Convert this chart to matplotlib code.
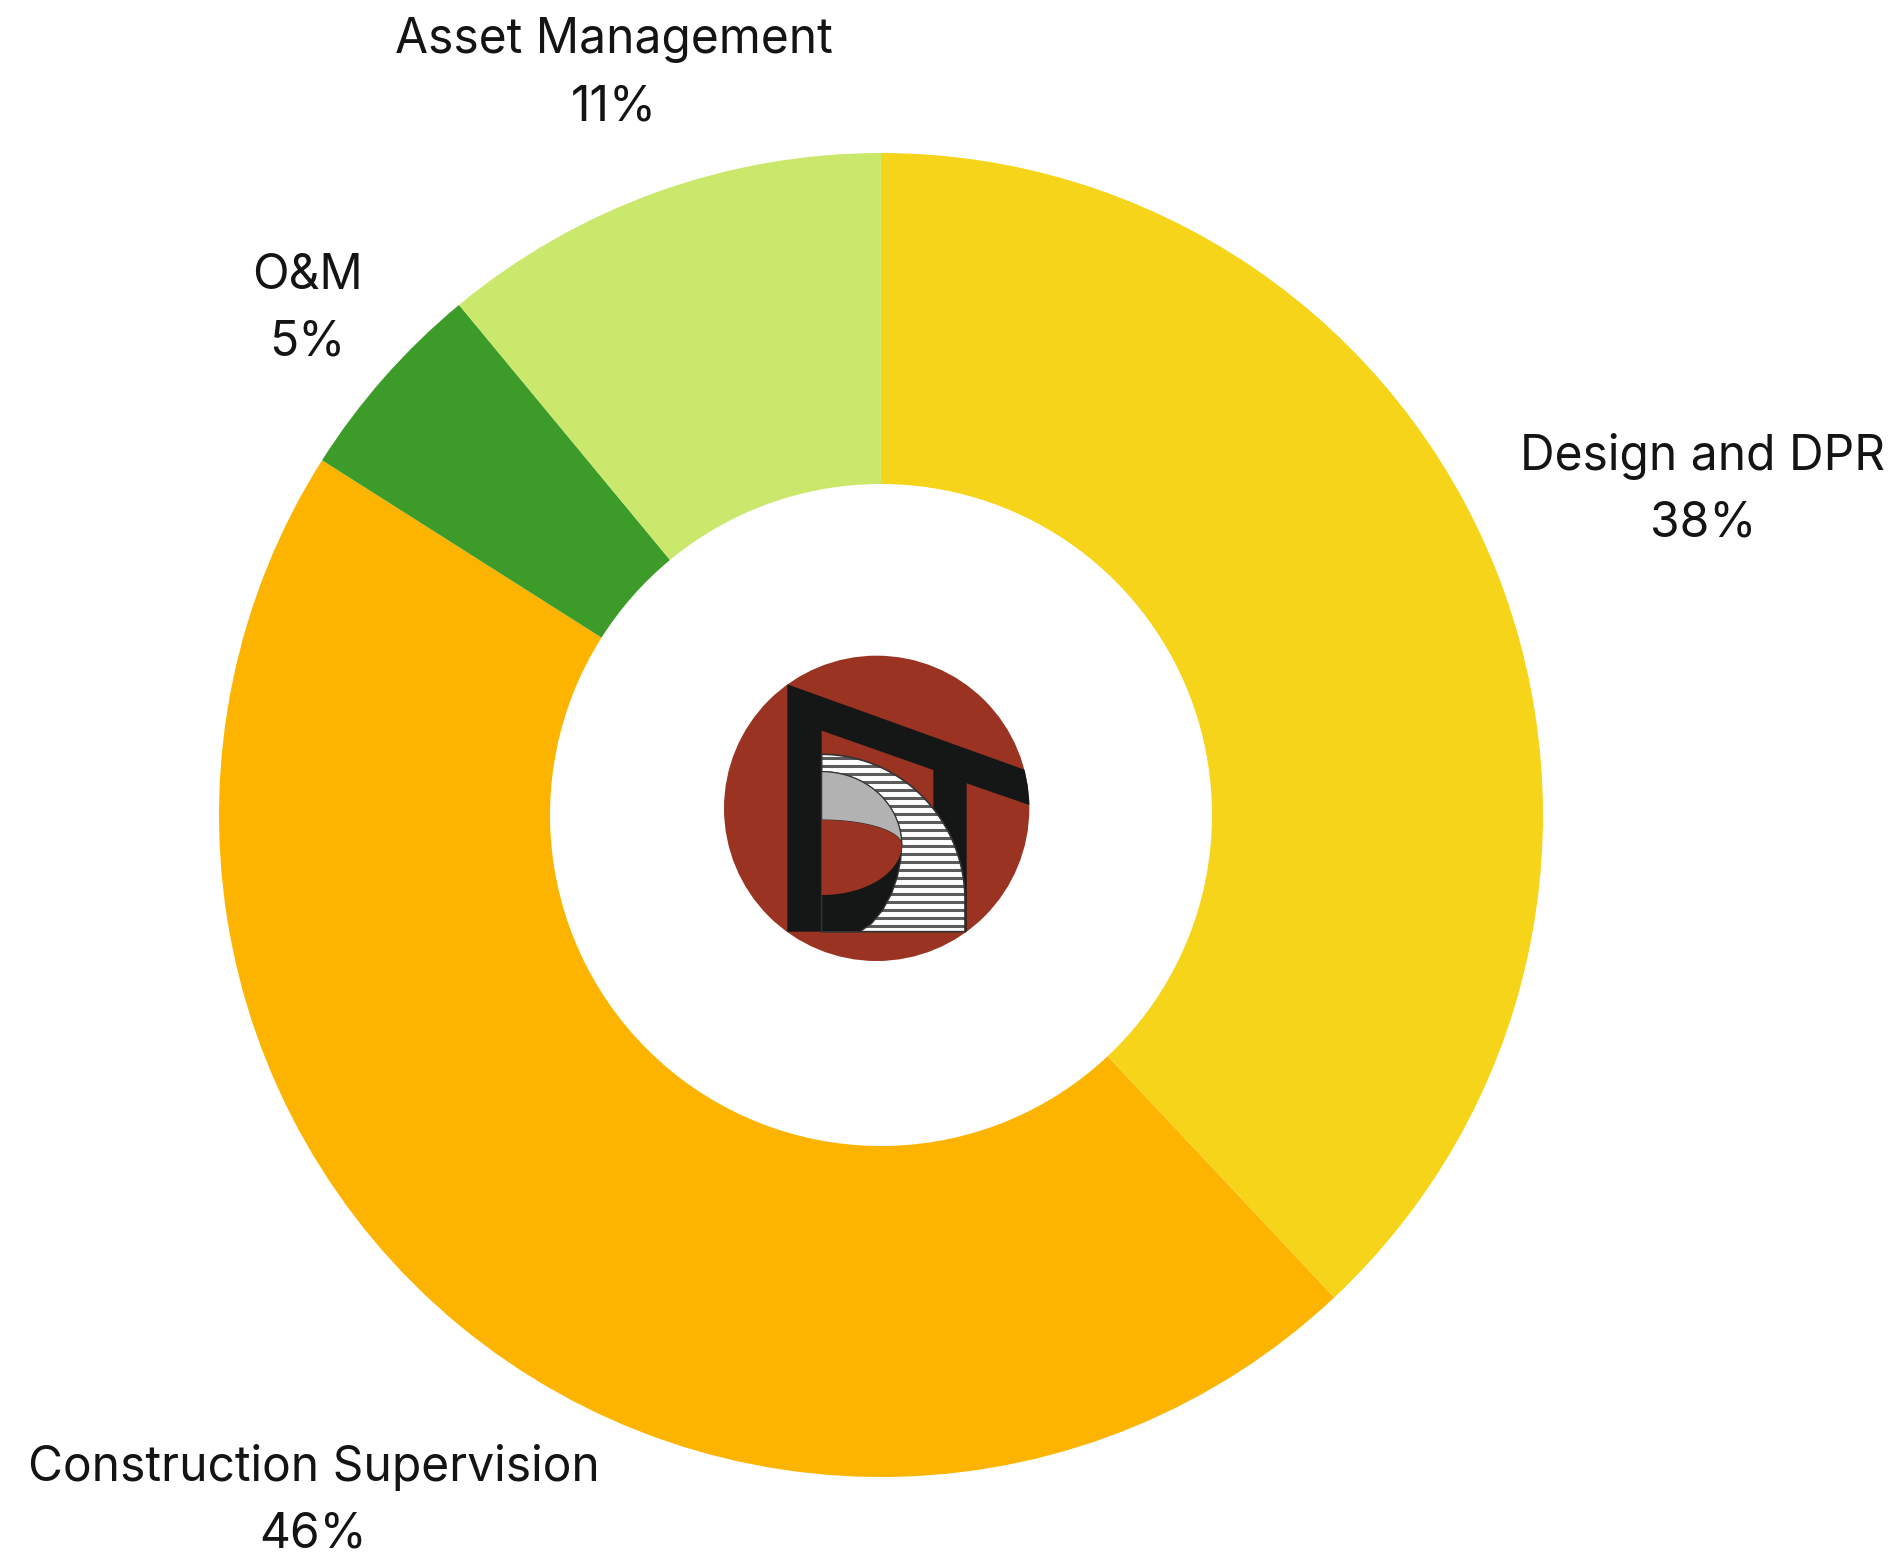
import numpy as np
import matplotlib
matplotlib.use("Agg")
import matplotlib.pyplot as plt
from matplotlib.patches import Polygon, Circle

# data
categories = ["Design and DPR", "Construction Supervision", "O&M", "Asset Management"]
shares = [38, 46, 5, 11]
colors = ["#F5D41A", "#FDB400", "#3D9C29", "#CAE86C"]
label_dist = [1.335, 1.345, 1.155, 1.19]

W, H = 1903, 1560
fig = plt.figure(figsize=(W / 100, H / 100), dpi=100)

# donut, centre (881, 815) px, radius 662 px
cx, cy, R = 881, 815, 662
ax = fig.add_axes([(cx - R) / W, (H - cy - R) / H, 2 * R / W, 2 * R / H])
wedges, _ = ax.pie(shares, colors=colors, startangle=90, counterclock=False,
                   radius=1, wedgeprops=dict(width=0.5, linewidth=0))
ax.set_xlim(-1, 1)
ax.set_ylim(-1, 1)
ax.set_aspect("equal")
ax.axis("off")

for w, name, val, d in zip(wedges, categories, shares, label_dist):
    mid = np.deg2rad((w.theta1 + w.theta2) / 2)
    ax.text(d * np.cos(mid), d * np.sin(mid), f"{name}\n{val}%",
            ha="center", va="center", multialignment="center",
            fontsize=34.5, color="#141414", linespacing=1.58,
            family=["Inter", "DejaVu Sans"])

# logo overlay in pixel coordinates
lx = fig.add_axes([0, 0, 1, 1])
lx.set_xlim(0, W)
lx.set_ylim(H, 0)
lx.axis("off")
lx.patch.set_alpha(0)

RED = "#9A3322"
BLACK = "#151716"


def z(pts):
    # logo drawn in a local 3x grid, map back to figure pixels
    return [(710 + x / 3, 640 + y / 3) for x, y in pts]


def arc(cx0, cy0, rx, ry, a0, a1, n=60):
    t = np.deg2rad(np.linspace(a0, a1, n))
    return list(zip(cx0 + rx * np.cos(t), cy0 - ry * np.sin(t)))


circ = Circle(z([(500, 505)])[0], 458 / 3, color=RED, lw=0, zorder=1)
lx.add_patch(circ)

black = Polygon(z([(232, 133), (1010, 413), (1010, 513), (770, 430), (770, 875), (232, 875)]),
                closed=True, color=BLACK, lw=0, zorder=1.1)
lx.add_patch(black)
black.set_clip_path(circ)

lx.add_patch(Polygon(z([(335, 272), (670, 390), (670, 875), (335, 875)]), closed=True,
                     color=RED, lw=0, zorder=1.2))

# striped band
band_pts = z(arc(335, 780, 430, 437, 90, 0) + [(765, 875), (335, 875)])
band = Polygon(band_pts, closed=True, facecolor="white", edgecolor="none", lw=0, zorder=1.3)
lx.add_patch(band)
for yy in np.arange(758, 934, 8.0):
    ln, = lx.plot([800, 980], [yy, yy], color="#5c5c5c", lw=2.2, solid_capstyle="butt", zorder=1.4)
    ln.set_clip_path(band)
lx.add_patch(Polygon(band_pts, closed=True, fill=False, edgecolor="#333333", lw=1.2, zorder=1.5))

# bowl of the D
bowl = arc(335, 615, 240, 220, 90, 0) + [(572, 660), (562, 710), (545, 760), (518, 810),
                                          (485, 850), (450, 875), (335, 875)]
lx.add_patch(Polygon(z(bowl), closed=True, facecolor=BLACK, edgecolor="#333333", lw=1.0, zorder=1.6))
grey = arc(335, 615, 240, 220, 90, 0) + arc(335, 615, 240, 75, 0, 90)
lx.add_patch(Polygon(z(grey), closed=True, facecolor="#B1B2B1", edgecolor="#333333", lw=0.8, zorder=1.7))
lens = arc(335, 615, 240, 75, 90, 0) + arc(335, 615, 240, 150, 0, -90)
lx.add_patch(Polygon(z(lens), closed=True, color=RED, lw=0, zorder=1.8))

fig.savefig("out.png", dpi=100, facecolor="white")
